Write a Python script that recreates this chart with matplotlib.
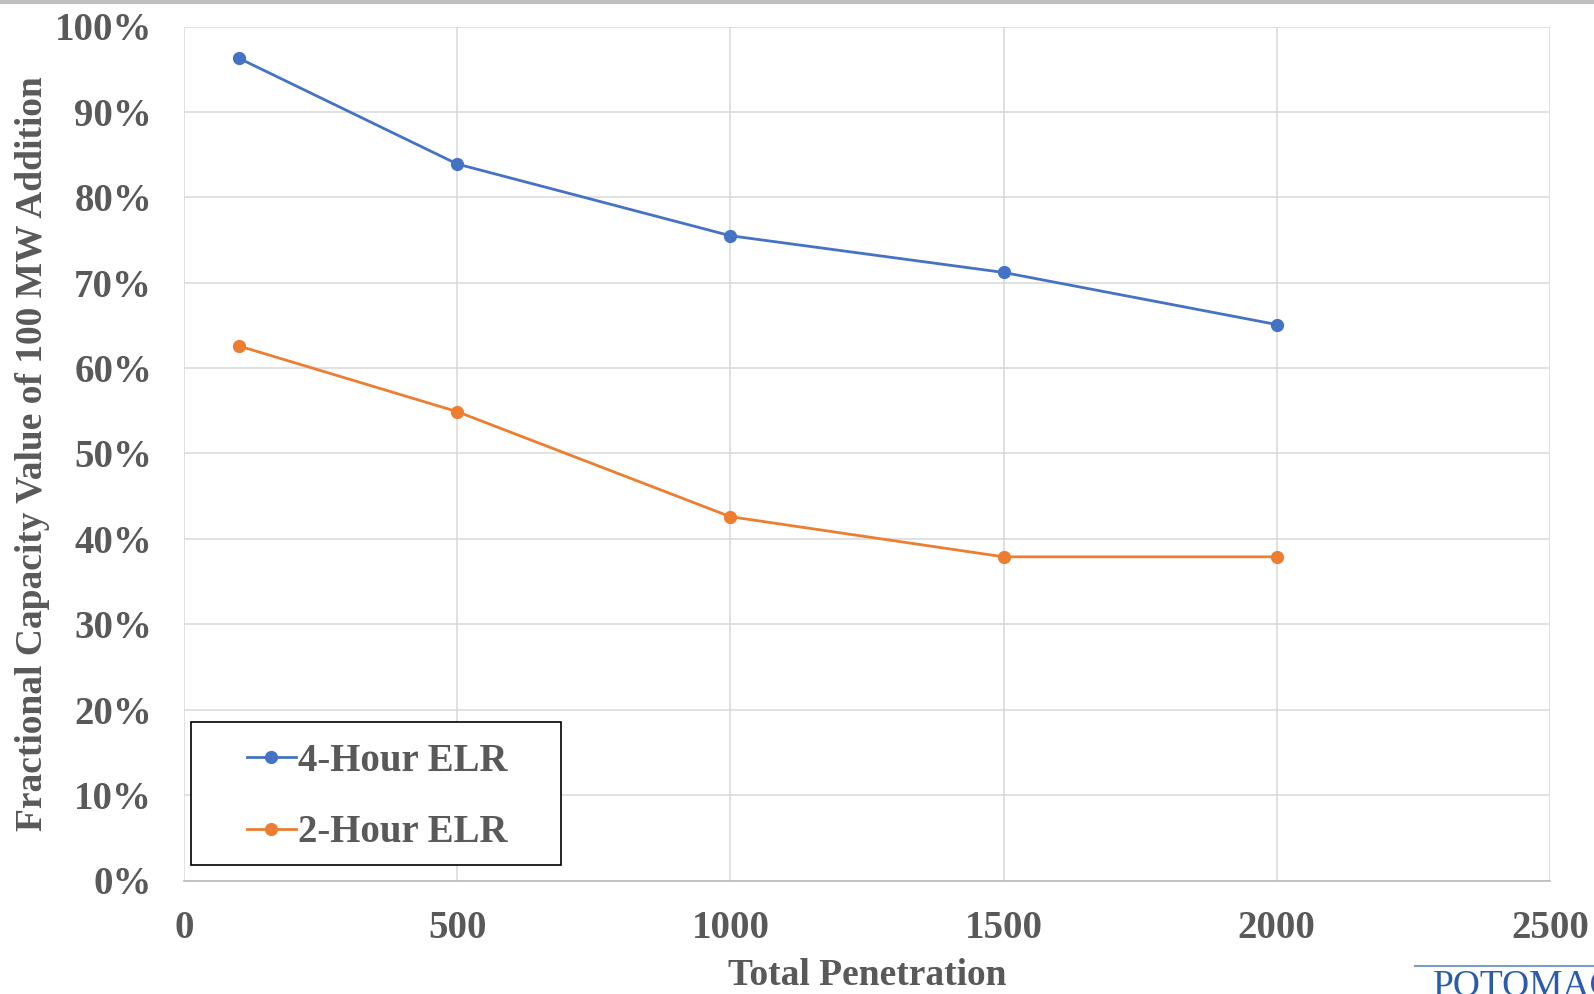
import matplotlib
matplotlib.use("Agg")
import matplotlib.pyplot as plt
from matplotlib.lines import Line2D
from matplotlib.patches import Rectangle
from matplotlib.ticker import FuncFormatter, MultipleLocator

# data
penetration = [100, 500, 1000, 1500, 2000]
elr_4h = [0.963, 0.839, 0.755, 0.712, 0.651]
elr_2h = [0.626, 0.549, 0.426, 0.379, 0.379]
series_labels = ["4-Hour ELR", "2-Hour ELR"]

W, H = 1594, 994
fig = plt.figure(figsize=(W / 100, H / 100), dpi=100)
plt.rcParams["font.family"] = ["Liberation Serif", "DejaVu Serif"]
text_color = "#595959"
fs = 28

# axes box in pixel coords
left, right, top, bottom = 184, 1550, 26.5, 880.5
ax = fig.add_axes([left / W, 1 - bottom / H, (right - left) / W, (bottom - top) / H])

ax.plot(penetration, elr_4h, color="#4472C4", lw=2.0, marker="o", ms=8.5, label=series_labels[0])
ax.plot(penetration, elr_2h, color="#ED7D31", lw=2.0, marker="o", ms=8.5, label=series_labels[1])

ax.set_xlim(0, 2500)
ax.set_ylim(0, 1.0)
ax.xaxis.set_major_locator(MultipleLocator(500))
ax.yaxis.set_major_locator(MultipleLocator(0.1))
ax.yaxis.set_major_formatter(FuncFormatter(lambda v, p: f"{v * 100:.0f}%"))
ax.grid(True, color="#d9d9d9", lw=1.1)
ax.set_axisbelow(True)
for s in ["top", "right", "left"]:
    ax.spines[s].set_visible(False)
ax.spines["bottom"].set_color("#bfbfbf")
ax.spines["bottom"].set_linewidth(1.3)
ax.tick_params(length=0, labelsize=fs, labelcolor=text_color)
ax.tick_params(axis="y", pad=23)
ax.tick_params(axis="x", pad=21)
for lab in ax.get_xticklabels() + ax.get_yticklabels():
    lab.set_fontweight("bold")

# axis titles pinned by their baselines
ax.set_xlabel("Total Penetration", fontsize=27, fontweight="bold", color=text_color)
ax.xaxis.set_label_coords(0.5, (bottom - 985) / (bottom - top))
ax.xaxis.label.set_va("baseline")
ax.set_ylabel("Fractional Capacity Value of 100 MW Addition", fontsize=27,
              fontweight="bold", color=text_color)
ax.yaxis.set_label_coords((42 - left) / (right - left), 0.5)
ax.yaxis.label.set_va("baseline")

# legend: frame drawn separately, entries placed inside it
fig.add_artist(Rectangle((191 / W, 1 - 865 / H), (561 - 191) / W, (865 - 722) / H,
                         transform=fig.transFigure, facecolor="white", edgecolor="black",
                         lw=1.2, zorder=3))
leg = fig.legend(loc="upper left", bbox_to_anchor=(247 / W, 1 - 743 / H),
                 prop={"weight": "bold", "size": fs}, labelcolor=text_color,
                 frameon=False, handlelength=1.25, handletextpad=0.05,
                 borderpad=0, borderaxespad=0, labelspacing=0.88)
leg.set_zorder(4)

# top rule and logo fragment (cut by the bottom edge, as in the source)
fig.add_artist(Line2D([0, 1], [1 - 1.5 / H, 1 - 1.5 / H], color="#bfbfbf", lw=3))
fig.add_artist(Line2D([1415 / W, 1], [1 - 966 / H, 1 - 966 / H], color="#7a9cc6", lw=1.5))
fig.text(1433 / W, 1 - 970 / H, "POTOMAC", color="#2a5caa", fontsize=27, va="top", ha="left")

fig.savefig("out.png", dpi=100)
